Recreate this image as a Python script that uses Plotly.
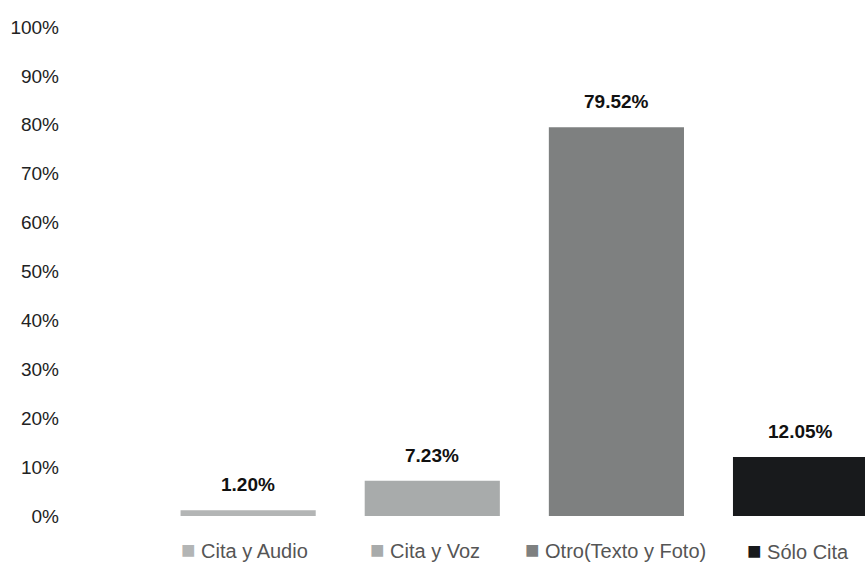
import plotly.graph_objects as go

# Data
categories = ["Cita y Audio", "Cita y Voz", "Otro(Texto y Foto)", "Sólo Cita"]
values = [1.20, 7.23, 79.52, 12.05]
bar_colors = ["#b3b5b5", "#a8abab", "#7e8080", "#181a1c"]
y_ticks = [0, 10, 20, 30, 40, 50, 60, 70, 80, 90, 100]
y_tick_labels = [f"{t}%" for t in y_ticks]

FONT = "Liberation Sans, Arial, sans-serif"

x = list(range(len(categories)))

fig = go.Figure()
fig.add_trace(go.Bar(
    x=x, y=values, width=0.734,
    marker=dict(color=bar_colors, line=dict(width=0)),
    hoverinfo="skip", showlegend=False,
))

# value labels above bars
for xi, v in zip(x, values):
    fig.add_annotation(
        x=xi, y=v, xref="x", yref="y",
        text=f"<b>{v:.2f}%</b>", showarrow=False,
        yanchor="bottom", yshift=13,
        font=dict(family=FONT, size=19, color="#111111"),
    )

# category labels with coloured squares, legend-like
xshifts = [-4, -7, -1, -3]
yshifts = [-33, -33, -33, -34]
for xi, cat, col, xs, ys in zip(x, categories, bar_colors, xshifts, yshifts):
    fig.add_annotation(
        x=xi, y=0, xref="x", yref="y",
        text=f"<span style='color:{col};font-size:24px'>■</span> {cat}",
        showarrow=False,
        xanchor="center", yanchor="middle", xshift=xs, yshift=ys,
        font=dict(family=FONT, size=20, color="#555555"),
    )

fig.update_xaxes(
    range=[-1.0, 3.35], showticklabels=False, showgrid=False,
    zeroline=False, showline=False, ticks="",
)
fig.update_yaxes(
    range=[0, 100], tickmode="array", tickvals=y_ticks, ticktext=y_tick_labels,
    showgrid=False, zeroline=False, showline=False, ticks="",
    ticklabelstandoff=4,
    tickfont=dict(family=FONT, size=19, color="#222222"),
)

fig.update_layout(
    width=865, height=564,
    margin=dict(l=64, r=0, t=27, b=48),
    plot_bgcolor="white", paper_bgcolor="white",
    font=dict(family=FONT),
)

fig.write_html(
    "out.html",
    config={"displayModeBar": False},
    post_script="document.body.style.margin='0';",
)
